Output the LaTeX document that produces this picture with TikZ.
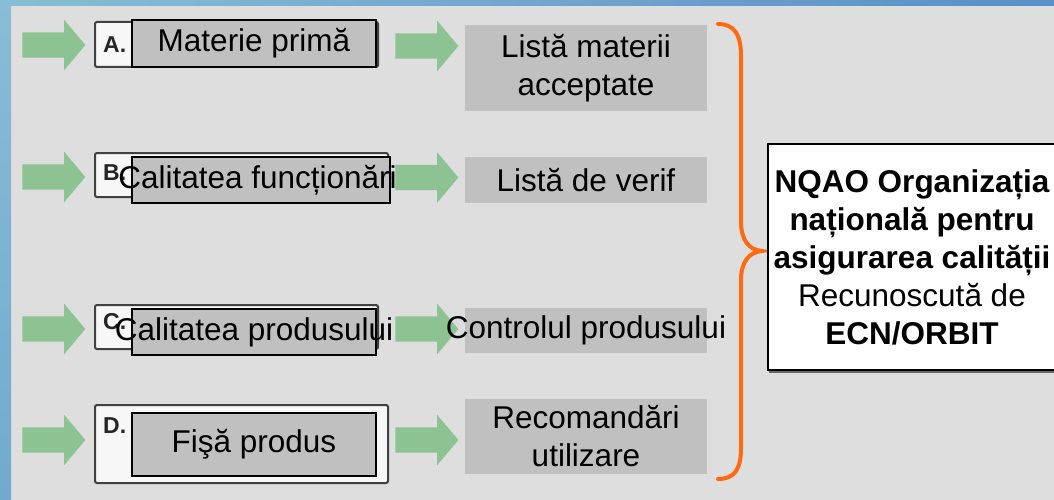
\documentclass[tikz,border=0pt]{standalone}
\usepackage{fontspec}
\setmainfont{Liberation Sans}
\usepackage{xcolor}
\usetikzlibrary{shapes,arrows,positioning,shadows}

\definecolor{bgGray}{HTML}{DEDEDE}
\definecolor{boxGray}{HTML}{C0C0C0}
\definecolor{arrowGreen}{HTML}{8DC293}
\definecolor{braceOrange}{HTML}{FF6A10}
\definecolor{frameBlue}{HTML}{72A9D0}
\definecolor{frameBlueLight}{HTML}{88BDD5}
\definecolor{frameBlueDark}{HTML}{5A8FC8}

\begin{document}
\begin{tikzpicture}[
    x=1pt, y=-1pt,
    bigfont/.style={font=\fontsize{31.5}{38}\selectfont},
    frame/.style={draw=black!75, line width=2pt, fill=black!3, rounded corners=2pt, inner sep=0pt},
    inbox/.style={draw=black, line width=1.8pt, fill=boxGray, inner sep=0pt, minimum width=244pt, bigfont},
    outbox/.style={fill=boxGray, inner sep=0pt, minimum width=242pt, align=center, bigfont},
    tag/.style={font=\fontsize{23}{23}\selectfont\bfseries, text=black!85, inner sep=0pt, anchor=north west},
    flow/.style={single arrow, fill=arrowGreen, inner sep=0pt, text height=12.5pt, text depth=12.5pt,
                 minimum height=63pt, single arrow head extend=12.5pt, single arrow tip angle=100}
]
    \useasboundingbox (0,0) rectangle (1054,500);
    \fill[bgGray] (0,0) rectangle (1054,500);
    \shade[left color=frameBlueLight, right color=frameBlueDark] (0,0) rectangle (1054,6);
    \shade[top color=frameBlueLight, bottom color=frameBlue] (0,0) rectangle (11,500);

    % left column
    \node[flow] (inA) at (48.5,45) {};
    \node[flow] (inB) at (48.5,177) {};
    \node[flow] (inC) at (48.5,329) {};
    \node[flow] (inD) at (48.5,440) {};

    \node[frame, minimum width=283pt, minimum height=45pt] (frameA) at (236.5,44.5) {};
    \node[frame, minimum width=293pt, minimum height=44pt] (frameB) at (241.5,175) {};
    \node[frame, minimum width=283pt, minimum height=44pt] (frameC) at (236.5,327) {};
    \node[frame, minimum width=293pt, minimum height=78pt] (frameD) at (241.5,444) {};

    \node[tag] (tagA) at ([xshift=9pt,yshift=-15pt]frameA.north west) {A.};
    \node[tag] (tagB) at ([xshift=9pt,yshift=-12pt]frameB.north west) {B.};
    \node[tag] (tagC) at ([xshift=9pt,yshift=-9pt]frameC.north west) {C.};
    \node[tag] (tagD) at ([xshift=9pt,yshift=-13pt]frameD.north west) {D.};

    \node[inbox, minimum height=47pt] (rawMat) at (254,43.5) {\makebox[0pt]{Materie primă}};
    \node[inbox, minimum width=258pt, minimum height=46pt] (runQual) at (261,180) {\makebox[0pt]{Calitatea funcționării}};
    \node[inbox, minimum height=46pt] (prodQual) at (254,332) {\makebox[0pt]{Calitatea produsului}};
    \node[inbox, minimum height=63pt] (prodSheet) at (254,444.5) {\makebox[0pt]{Fişă produs}};

    % right column
    \node[flow] (outA) at (421.5,46) {};
    \node[flow] (outB) at (421.5,177.5) {};
    \node[flow] (outC) at (421.5,329) {};
    \node[flow] (outD) at (421.5,440) {};

    \node[outbox, minimum height=86pt] (matList) at (586,68) {Listă materii\\acceptate};
    \node[outbox, minimum height=46pt] (checkList) at (586,180) {Listă de verif};
    \node[outbox, minimum height=45pt] (prodCtrl) at (586,330.5) {\makebox[0pt]{Controlul produsului}};
    \node[outbox, minimum height=75pt] (useRec) at (586,436.5) {Recomandări\\utilizare};

    % brace and agency
    \draw[braceOrange, line width=4pt, line cap=round]
        (718,24) .. controls (734,24) and (741,34) .. (741,56) -- (741,222)
        .. controls (741,240) and (749,250) .. (762,251)
        .. controls (749,252) and (741,262) .. (741,280) -- (741,448)
        .. controls (741,470) and (734,479) .. (718,479);

    \node[draw, line width=2pt, fill=white, minimum width=288pt, minimum height=226pt, align=center, bigfont,
          drop shadow={shadow xshift=1pt, shadow yshift=-3pt, fill=black!60, opacity=1}] (nqao) at (912,257)
        {\textbf{NQAO Organizația}\\\textbf{națională pentru}\\\textbf{asigurarea calității}\\Recunoscută de\\\textbf{ECN/ORBIT}};
\end{tikzpicture}
\end{document}
